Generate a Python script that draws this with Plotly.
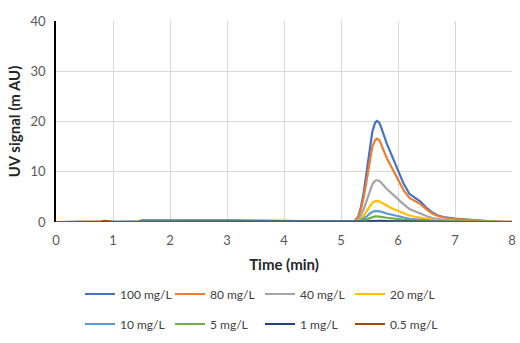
import plotly.graph_objects as go

time_min = [0, 0.5, 0.8, 0.85, 0.9, 1.0, 1.45, 1.5, 2.0, 3.0, 4.0, 4.5, 5.0,
            5.2, 5.25, 5.3, 5.35, 5.4, 5.45, 5.5, 5.55, 5.6, 5.63, 5.67, 5.7, 5.8, 5.9,
            6.0, 6.1, 6.2, 6.3, 6.4, 6.5, 6.6, 6.7, 6.8, 7.0, 7.2, 7.5, 7.8, 8.0]

s100 = [0, 0, 0, 0, 0, 0, 0.05, 0.35, 0.4, 0.35, 0.25, 0.15, 0.05,
        0.05, 0.3, 1.0, 3.0, 6.0, 10.0, 14.5, 18.0, 19.8, 20.1, 19.8, 19.0, 15.7, 13.0,
        10.3, 7.6, 5.6, 4.8, 4.0, 2.8, 1.9, 1.3, 1.0, 0.7, 0.5, 0.25, 0.05, 0.02]
s80 = [0, 0, 0, 0, 0, 0, 0, 0.05, 0.05, 0.05, 0.05, 0.05, 0.05,
       0.05, 0.25, 0.8, 2.5, 5.0, 8.3, 12.0, 15.0, 16.3, 16.6, 16.3, 15.6, 12.8, 10.6,
       8.4, 6.3, 4.8, 4.2, 3.5, 2.5, 1.7, 1.2, 0.9, 0.6, 0.45, 0.2, 0.05, 0.02]
s40 = [0, 0, 0, 0, 0, 0, 0, 0.02, 0.02, 0.02, 0.02, 0.02, 0.02,
       0.02, 0.12, 0.4, 1.3, 2.6, 4.2, 6.0, 7.5, 8.2, 8.3, 8.2, 7.9, 6.6, 5.5,
       4.6, 3.5, 2.6, 2.1, 1.7, 1.2, 0.8, 0.6, 0.45, 0.3, 0.2, 0.1, 0.02, 0]
s20 = [0, 0, 0, 0, 0, 0, 0, 0, 0, 0, 0, 0, 0,
       0.01, 0.06, 0.2, 0.65, 1.3, 2.1, 3.0, 3.8, 4.15, 4.2, 4.1, 3.95, 3.3, 2.7,
       2.2, 1.7, 1.3, 1.05, 0.85, 0.6, 0.4, 0.3, 0.22, 0.15, 0.1, 0.05, 0.01, 0]
s10 = [0, 0, 0, 0, 0, 0, 0, 0, 0, 0, 0, 0, 0,
       0.01, 0.03, 0.1, 0.35, 0.7, 1.1, 1.6, 2.0, 2.2, 2.2, 2.15, 2.05, 1.7, 1.4,
       1.1, 0.85, 0.65, 0.55, 0.45, 0.3, 0.2, 0.15, 0.1, 0.08, 0.05, 0.02, 0, 0]
s5 = [0, 0, 0, 0, 0, 0, 0, 0, 0, 0, 0, 0, 0,
      0, 0.02, 0.05, 0.17, 0.35, 0.55, 0.8, 1.0, 1.1, 1.1, 1.08, 1.02, 0.85, 0.7,
      0.55, 0.42, 0.32, 0.27, 0.22, 0.15, 0.1, 0.08, 0.05, 0.04, 0.02, 0.01, 0, 0]
s1 = [0, 0, 0, 0, 0, 0, 0, 0, 0, 0, 0, 0, 0,
      0, 0, 0.01, 0.04, 0.08, 0.13, 0.18, 0.22, 0.25, 0.25, 0.24, 0.23, 0.19, 0.15,
      0.12, 0.09, 0.07, 0.06, 0.05, 0.03, 0.02, 0.01, 0.01, 0, 0, 0, 0, 0]
s05 = [0, 0.03, 0.08, 0.22, 0.15, 0.04, 0, 0, 0, 0, 0, 0, 0,
       0, 0, 0, 0.02, 0.04, 0.06, 0.09, 0.11, 0.12, 0.12, 0.12, 0.11, 0.09, 0.07,
       0.06, 0.05, 0.04, 0.03, 0.02, 0.02, 0.01, 0.01, 0, 0, 0, 0, 0, 0]

series_names = ["100 mg/L", "80 mg/L", "40 mg/L", "20 mg/L",
                "10 mg/L", "5 mg/L", "1 mg/L", "0.5 mg/L"]
series_values = [s100, s80, s40, s20, s10, s5, s1, s05]
series_colors = ["#4472C4", "#ED7D31", "#A5A5A5", "#FFC000",
                 "#5B9BD5", "#70AD47", "#264478", "#9E480E"]

x_ticks = [0, 1, 2, 3, 4, 5, 6, 7, 8]
y_ticks = [0, 10, 20, 30, 40]

fig = go.Figure()
for i, (name, vals, col) in enumerate(zip(series_names, series_values, series_colors)):
    fig.add_trace(go.Scatter(x=time_min, y=vals, name=name, mode="lines",
                             legend="legend" if i < 4 else "legend2",
                             line=dict(color=col, width=2.2)))

font_family = "Lato, 'Liberation Sans', sans-serif"
leg_common = dict(orientation="h", xref="container", yref="container",
                  xanchor="left", yanchor="middle",
                  entrywidth=45, entrywidthmode="pixels",
                  font=dict(size=12, color="#404040"), itemwidth=30,
                  bgcolor="rgba(0,0,0,0)")
fig.update_layout(
    width=520, height=343,
    margin=dict(l=56, r=4, t=21, b=121),
    paper_bgcolor="white", plot_bgcolor="white",
    font=dict(family=font_family, size=12, color="#595959"),
    showlegend=True,
    legend=dict(x=80 / 520, y=1 - 294 / 343, **leg_common),
    legend2=dict(x=80 / 520, y=1 - 324 / 343, **leg_common),
    xaxis=dict(range=[0, 8], tickvals=x_ticks, ticktext=[str(v) for v in x_ticks],
               showgrid=True, gridcolor="#D9D9D9", gridwidth=1,
               zeroline=False, showline=False, ticks="",
               ticklabelstandoff=9,
               tickfont=dict(size=13, color="#595959"),
               title=dict(text="<b>Time (min)</b>", font=dict(size=15, color="#262626"),
                          standoff=12)),
    yaxis=dict(range=[0, 40], tickvals=y_ticks, ticktext=[str(v) for v in y_ticks],
               showgrid=True, gridcolor="#D9D9D9", gridwidth=1,
               zeroline=False, showline=True, linecolor="#000000", linewidth=1.5,
               ticks="", ticklabelstandoff=6,
               tickfont=dict(size=13, color="#595959"),
               title=dict(text="<b>UV signal (m AU)</b>", font=dict(size=15, color="#262626"),
                          standoff=6)),
)

fig.write_html("out.html")
